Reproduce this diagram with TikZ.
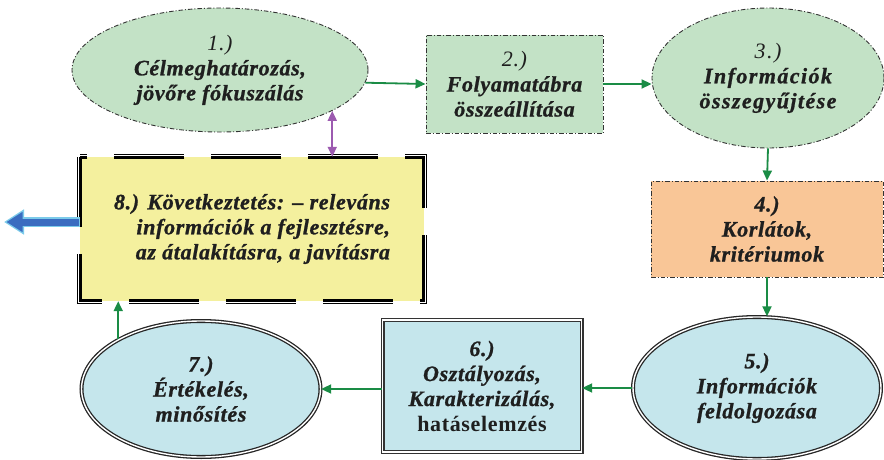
\documentclass[tikz,border=0pt]{standalone}
\usepackage{fontspec}
\setmainfont{Liberation Serif}[BoldItalicFeatures={FakeBold=1}]
\usetikzlibrary{shapes.geometric,arrows.meta}
\definecolor{greenfill}{HTML}{C3E2C6}
\definecolor{bluefill}{HTML}{C5E6EC}
\definecolor{orangefill}{HTML}{F9C697}
\definecolor{yellowfill}{HTML}{F4F09E}
\definecolor{flowgreen}{HTML}{1A8C45}
\definecolor{linkpurple}{HTML}{9C5AB0}
\definecolor{outblue}{HTML}{3A6CC0}
\definecolor{outlight}{HTML}{7CCBEA}
\definecolor{rimgrey}{HTML}{333333}
\newcommand\bi{\bfseries\itshape}
\newcommand\spaced[1]{\addfontfeature{LetterSpace=#1}}
\tikzset{
  txt/.style={align=center, font=\fontsize{22}{25}\selectfont\bi\spaced{3}, text=black!88, inner sep=0pt},
  dashdot/.style={draw=rimgrey, line width=0.9pt, dash pattern=on 4.5pt off 2pt on 1pt off 2pt},
  greenoval/.style={txt, ellipse, dashdot, fill=greenfill},
  greenbox/.style={txt, rectangle, dashdot, fill=greenfill},
  orangebox/.style={txt, rectangle, dashdot, fill=orangefill},
  blueoval/.style={txt, ellipse, fill=bluefill, draw=black!85, line width=1.3pt, double=white, double distance=1.4pt},
  bluebox/.style={txt, rectangle, fill=bluefill, draw=black!80, line width=1.3pt, double=white, double distance=1.4pt},
  flow/.style={draw=flowgreen, line width=1.8pt, -{Triangle[length=10pt,width=9pt]}},
  both/.style={draw=linkpurple, line width=1.8pt, {Triangle[length=10pt,width=9pt]}-{Triangle[length=10pt,width=9pt]}},
  bigdash/.style={draw=black, line width=5pt, dash pattern=on 70pt off 27pt},
  rimline/.style={draw=white, line width=0.9pt}
}
\begin{document}
\begin{tikzpicture}[x=1pt, y=-1pt]
\useasboundingbox (0,0) rectangle (884,460);

% upper row
\node[greenoval, minimum width=296pt, minimum height=124pt] (n1) at (220,70)
  {{\mdseries 1.)}\\Célmeghatározás,\\jövőre fókuszálás};
\node[greenbox, minimum width=177pt, minimum height=98pt] (n2) at (514.5,84)
  {{\mdseries 2.)}\\Folyamatábra\\összeállítása};
\node[greenoval, minimum width=232pt, minimum height=140pt, font=\fontsize{22}{25}\selectfont\bi\spaced{6.5}] (n3) at (768,78)
  {{\mdseries 3.)}\\Információk\\összegyűjtése};

% right column
\node[orangebox, minimum width=232pt, minimum height=96pt] (n4) at (767,229)
  {4.)\\Korlátok,\\kritériumok};

% lower row
\node[blueoval, minimum width=248pt, minimum height=142pt] (n5) at (757,388)
  {5.)\\Információk\\feldolgozása};
\node[bluebox, minimum width=199pt, minimum height=132pt] (n6) at (482,386)
  {6.)\\Osztályozás,\\Karakterizálás,\\{\upshape hatáselemzés}};
\node[blueoval, minimum width=239pt, minimum height=136pt] (n7) at (201,389)
  {7.)\\Értékelés,\\minősítés};

% conclusion box
\node[txt, rectangle, fill=yellowfill, minimum width=344pt, minimum height=144pt, align=right] (n8) at (252,229)
  {8.) Következtetés: -- releváns\\információk a fejlesztésre,\\az átalakításra, a javításra};
\draw[bigdash] (n8.north west) rectangle (n8.south east);
\draw[rimline] ([shift={(-1.3,-1.3)}]n8.north west) rectangle ([shift={(1.3,1.3)}]n8.south east);

% connectors
\draw[flow] (n1.-5.6) -- (n2.west);
\draw[flow] (n2.east) -- (n2.east -| n3.west);
\draw[flow] (n3.south) -- (n4.north);
\draw[flow] (n4.south) -- (n4.south |- n5.north);
\draw[flow] (n5.west) -- (n5.west -| n6.east);
\draw[flow] (n6.west |- n7.east) -- (n7.east);
\draw[flow] (n7.149) -- (n7.149 |- n8.south);
\draw[both] (n1.-20.3) -- (n1.-20.3 |- n8.north);

% outgoing arrow
\coordinate (out) at (4,222);
\draw[draw=outlight, line width=10pt, -{Triangle[length=20pt,width=24pt]}] (n8.west |- out) -- (out);
\draw[draw=outblue, line width=7pt, -{Triangle[length=16pt,width=19pt]}] ([xshift=-1pt]n8.west |- out) -- ([xshift=2.5pt]out);
\end{tikzpicture}
\end{document}
